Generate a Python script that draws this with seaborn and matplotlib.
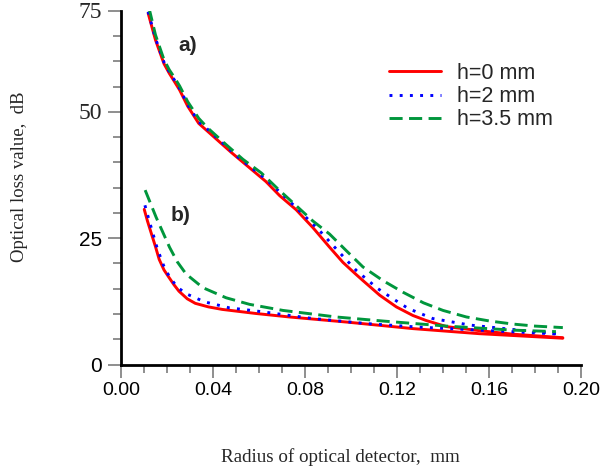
import matplotlib
matplotlib.use("Agg")
import matplotlib.pyplot as plt
import matplotlib.transforms as mtransforms
import seaborn as sns
import pandas as pd
from matplotlib.ticker import MultipleLocator

# ---- data ----
red_a_x = [0.0118, 0.0150, 0.0187, 0.0210, 0.0232, 0.0255, 0.0290, 0.0338, 0.0380, 0.0481,
           0.0630, 0.0690, 0.0762, 0.0834, 0.0907, 0.0965, 0.1020, 0.1052, 0.1125, 0.1197,
           0.1269, 0.1327, 0.1415, 0.1557, 0.1704, 0.1921]
red_a_y = [69.5, 64.2, 59.5, 57.6, 56.0, 54.3, 51.1, 47.7, 46.0, 41.9,
           36.2, 33.4, 30.6, 27.1, 23.2, 20.2, 17.9, 16.6, 13.7, 11.4,
           9.7, 8.7, 7.5, 6.7, 6.0, 5.3]

blue_a_x = [0.0118, 0.0150, 0.0187, 0.0210, 0.0232, 0.0255, 0.0290, 0.0338, 0.0380, 0.0507,
            0.0632, 0.0719, 0.0776, 0.0863, 0.0943, 0.1023, 0.1117, 0.1183, 0.1248, 0.1355,
            0.1517, 0.1689, 0.1911]
blue_a_y = [69.8, 64.5, 59.8, 57.9, 56.3, 54.6, 51.4, 48.0, 46.4, 41.1,
            36.6, 32.9, 30.4, 26.5, 22.5, 18.6, 15.0, 13.0, 11.1, 9.1,
            7.8, 7.0, 6.0]

green_a_x = [0.0122, 0.0150, 0.0187, 0.0210, 0.0232, 0.0255, 0.0290, 0.0338, 0.0377, 0.0457,
             0.0530, 0.0610, 0.0683, 0.0755, 0.0834, 0.0907, 0.0980, 0.1052, 0.1139, 0.1226,
             0.1315, 0.1400, 0.1502, 0.1603, 0.1704, 0.1800, 0.1921]
green_a_y = [70.5, 65.2, 60.3, 58.3, 56.8, 55.1, 52.0, 48.7, 46.8, 43.5,
             40.6, 37.9, 34.7, 31.7, 28.4, 25.8, 22.5, 19.3, 16.6, 14.3,
             12.2, 10.7, 9.4, 8.6, 8.0, 7.6, 7.3]

red_b_x = [0.0101, 0.0115, 0.0130, 0.0150, 0.0166, 0.0187, 0.0209, 0.0230, 0.0252, 0.0288,
           0.0323, 0.0380, 0.0440, 0.0585, 0.0733, 0.0980, 0.1269, 0.1557, 0.1921]
red_b_y = [30.7, 28.4, 26.2, 23.3, 20.8, 18.7, 17.2, 15.8, 14.5, 13.0,
           12.1, 11.4, 10.9, 10.1, 9.4, 8.4, 7.1, 6.1, 5.2]

blue_b_x = [0.0104, 0.0123, 0.0158, 0.0185, 0.0211, 0.0245, 0.0283, 0.0363, 0.0472, 0.0586,
            0.0718, 0.0834, 0.1067, 0.1294, 0.1557, 0.1911]
blue_b_y = [31.5, 28.4, 22.9, 19.6, 17.3, 15.3, 14.0, 12.4, 11.2, 10.6,
            9.8, 9.1, 8.1, 7.4, 6.8, 6.0]

green_b_x = [0.0105, 0.0153, 0.0211, 0.0245, 0.0283, 0.0356, 0.0457, 0.0559, 0.0704, 0.0936,
             0.1139, 0.1415, 0.1704, 0.1891]
green_b_y = [34.5, 29.1, 23.2, 20.3, 17.9, 15.2, 13.2, 11.9, 10.7, 9.4,
             8.6, 7.6, 6.8, 6.5]

series_labels = ["h=0 mm", "h=2 mm", "h=3.5 mm"]
x_ticks = [0.00, 0.04, 0.08, 0.12, 0.16, 0.20]
x_tick_labels = ["0.00", "0.04", "0.08", "0.12", "0.16", "0.20"]
y_ticks = [0, 25, 50, 70]
y_tick_labels = ["0", "25", "50", "75"]
serif_y_labels = ["50", "75"]   # drawn in a serif face in the reference

# ---- figure ----
sns.set_style("white")
plt.rcParams["font.family"] = ["Liberation Sans", "DejaVu Sans"]

fig = plt.figure(figsize=(6.03, 4.68), dpi=100)
ax = fig.add_axes([121 / 603, (468 - 364.5) / 468, (581 - 121) / 603, (364.5 - 10.7) / 468])

RED = "#ff0000"
BLUE = "#0000ff"
GREEN = "#00963c"
LW = 2.1
styles = {
    "red": dict(color=RED, dash=None),
    "blue": dict(color=BLUE, dash=(1.0, 2.5)),
    "green": dict(color=GREEN, dash=(4.5, 2.2)),
}

def draw(xs, ys, key, label=None):
    df = pd.DataFrame({"x": xs, "y": ys})
    n_before = len(ax.lines)
    sns.lineplot(data=df, x="x", y="y", ax=ax, color=styles[key]["color"],
                 estimator=None, sort=False, linewidth=LW, label=label, legend=False)
    line = ax.lines[n_before]
    line.set_solid_joinstyle("round")
    if styles[key]["dash"] is not None:
        line.set_dashes(styles[key]["dash"])
        line.set_dash_capstyle("butt")
    return line

h_red = draw(red_a_x, red_a_y, "red", series_labels[0])
h_blue = draw(blue_a_x, blue_a_y, "blue", series_labels[1])
h_green = draw(green_a_x, green_a_y, "green", series_labels[2])
draw(red_b_x, red_b_y, "red")
draw(blue_b_x, blue_b_y, "blue")
draw(green_b_x, green_b_y, "green")

ax.set_xlim(0, 0.2)
ax.set_ylim(0, 70)
ax.set_xticks(x_ticks)
ax.set_yticks(y_ticks)
ax.xaxis.set_minor_locator(MultipleLocator(0.01))
ax.yaxis.set_minor_locator(MultipleLocator(5))

MAJ_LEN = 9.5
YPAD = 4
ax.tick_params(axis="both", which="major", direction="out", length=MAJ_LEN, width=1.1,
               color="#707070", labelcolor="black")
ax.tick_params(axis="both", which="minor", direction="out", length=6, width=1.1,
               color="#707070")
ax.tick_params(axis="x", which="major", pad=3, bottom=True)
ax.tick_params(axis="x", which="minor", bottom=True)
ax.tick_params(axis="y", which="major", pad=YPAD, left=True)
ax.tick_params(axis="y", which="minor", left=True)

ax.set_xticklabels(x_tick_labels, fontsize=14)
# sans labels go through the axis; serif ones are placed as texts at their ticks
ax.set_yticklabels([("" if l in serif_y_labels else l) for l in y_tick_labels], fontsize=15)
lab_tr = mtransforms.offset_copy(ax.get_yaxis_transform(), fig=fig,
                                 x=-(MAJ_LEN + YPAD), y=-1.3, units="points")
for pos, lab in zip(y_ticks, y_tick_labels):
    if lab in serif_y_labels:
        ax.text(0, pos, lab, transform=lab_tr, ha="right", va="center",
                family="Liberation Serif", fontsize=17, clip_on=False)

for s in ("top", "right"):
    ax.spines[s].set_visible(False)
for s in ("left", "bottom"):
    ax.spines[s].set_color("black")
    ax.spines[s].set_linewidth(2.0)

ax.set_xlabel("")
ax.set_ylabel("")
fig.text(340 / 603, 1 - 457 / 468, "Radius of optical detector,  mm",
         family="Liberation Serif", fontsize=13.7, ha="center", va="center")
fig.text(20 / 603, 1 - 177 / 468, "Optical loss value,  dB",
         family="Liberation Serif", fontsize=13.5, ha="center", va="center", rotation=90)

ax.text(0.0291, 63.2, "a)", fontsize=15, fontweight="bold", ha="center", va="center")
ax.text(0.0257, 29.4, "b)", fontsize=15, fontweight="bold", ha="center", va="center")

leg = fig.legend(handles=[h_red, h_blue, h_green], labels=series_labels,
                 loc="upper left", bbox_to_anchor=(389 / 603, 1 - 63 / 468),
                 frameon=False, fontsize=15.5, handlelength=2.4, handletextpad=0.75,
                 labelspacing=0.1, borderpad=0, borderaxespad=0)

fig.savefig("out.png", dpi=100)
